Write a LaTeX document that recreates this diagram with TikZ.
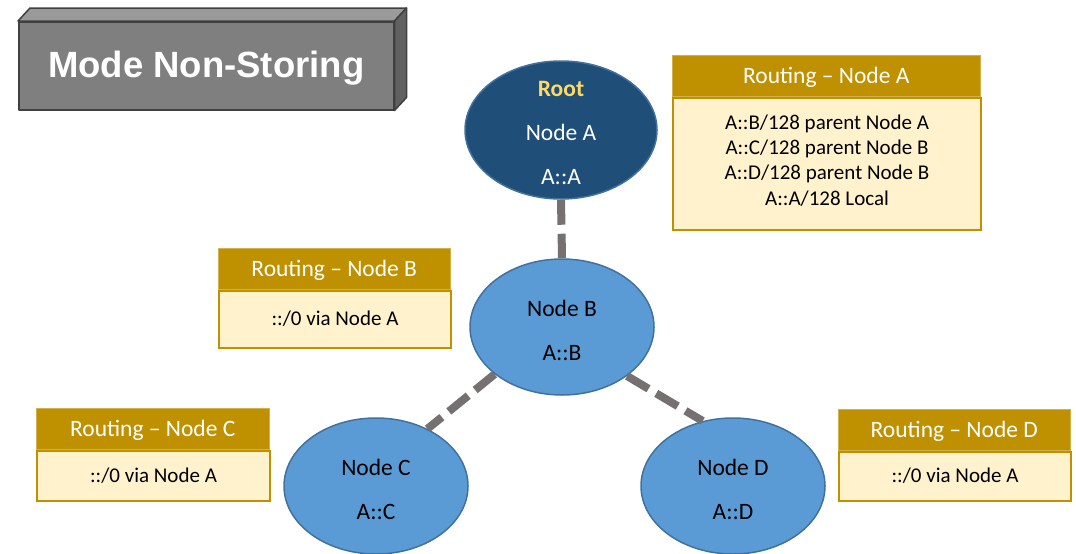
\documentclass[tikz,border=0pt]{standalone}
\usepackage{fontspec}
\setmainfont{Carlito}
\newfontfamily\titlefont{Liberation Sans}
\usetikzlibrary{shapes.geometric}
\definecolor{gold}{HTML}{BF9000}
\definecolor{cream}{HTML}{FFF2CC}
\definecolor{navy}{HTML}{1F4E79}
\definecolor{skyblue}{HTML}{5B9BD5}
\definecolor{edgeblue}{HTML}{41719C}
\definecolor{linkgray}{HTML}{767171}
\definecolor{rootyellow}{HTML}{FFD966}
\definecolor{frontgray}{HTML}{7F7F7F}
\definecolor{topgray}{HTML}{9A9A9A}
\definecolor{sidegray}{HTML}{606060}
\definecolor{rimgray}{HTML}{404040}
\begin{document}
\begin{tikzpicture}[x=1pt,y=-1pt,
  nodetext/.style={align=center, inner sep=0pt, yshift=-3pt,
    font=\fontsize{23.5}{44}\selectfont},
  netnode/.style={ellipse, draw=edgeblue, line width=1.5pt, fill=skyblue, inner sep=0pt,
    minimum width=184pt, minimum height=136pt},
  rootnode/.style={netnode, fill=navy, minimum width=192pt, minimum height=138pt},
  header/.style={rectangle, fill=gold, draw=gold!70!white, line width=0.5pt, text=white,
    inner sep=0pt, anchor=north west, minimum height=41pt, text height=20.5pt, text depth=6pt,
    font=\fontsize{23.5}{28}\selectfont},
  tablebody/.style={rectangle, fill=cream, draw=gold, line width=2pt, inner sep=0pt,
    anchor=north west, align=center, font=\fontsize{21}{25.3}\selectfont},
  bodytext/.style={align=center, inner sep=0pt, font=\fontsize{21}{25.3}\selectfont},
  link/.style={draw=linkgray, line width=8pt, dash pattern=on 25pt off 9pt},
  face/.style={draw=rimgray, line width=1.5pt, line join=round}
]
\useasboundingbox (0,0) rectangle (1076,554);

% title block
\node[face, fill=frontgray, minimum width=375pt, minimum height=88pt, anchor=north west,
  inner sep=0pt, text=white, text height=32pt, text depth=7.7pt,
  font=\titlefont\bfseries\fontsize{36.5}{40}\selectfont]
  (title) at (18,21) {Mode Non-Storing};
\coordinate (tnw) at ([shift={(12,-13)}]title.north west);
\coordinate (tne) at ([shift={(12,-13)}]title.north east);
\coordinate (tse) at ([shift={(12,-13)}]title.south east);
\filldraw[face, fill=topgray] (title.north west) -- (tnw) -- (tne) -- (title.north east) -- cycle;
\filldraw[face, fill=sidegray] (title.north east) -- (tne) -- (tse) -- (title.south east) -- cycle;

% network nodes
\node[rootnode, label={[nodetext, text=white]center:{\textcolor{rootyellow}{\bfseries Root}\\Node A\\A::A}}]
  (A) at (561,130) {};
\node[netnode, label={[nodetext]center:{Node B\\A::B}}] (B) at (562,327) {};
\node[netnode, label={[nodetext]center:{Node C\\A::C}}] (C) at (376,486) {};
\node[netnode, label={[nodetext]center:{Node D\\A::D}}] (D) at (733,486) {};

% links
\draw[link] (A.south) -- (B.north);
\draw[link] (B.215) -- (C.48);
\draw[link] (B.-37) -- (D.115);

% routing tables
\node[header, minimum width=308pt] (hA) at (672,55) {Routing – Node A};
\node[tablebody, minimum width=308pt, minimum height=132pt,
  label={[bodytext, yshift=3pt]center:{A::B/128 parent Node A\\A::C/128 parent Node B\\A::D/128 parent Node B\\A::A/128 Local}}]
  (tA) at (hA.south west) {};

\node[header, minimum width=232pt] (hB) at (218,248) {Routing – Node B};
\node[tablebody, minimum width=232pt, minimum height=57pt] (tB) at (hB.south west)
  {::/0 via Node A};

\node[header, minimum width=233pt] (hC) at (36,408) {Routing – Node C};
\node[tablebody, minimum width=233pt, minimum height=50pt] (tC) at (hC.south west)
  {::/0 via Node A};

\node[header, minimum width=232pt] (hD) at (838,409) {Routing – Node D};
\node[tablebody, minimum width=232pt, minimum height=49pt] (tD) at (hD.south west)
  {::/0 via Node A};
\end{tikzpicture}
\end{document}
